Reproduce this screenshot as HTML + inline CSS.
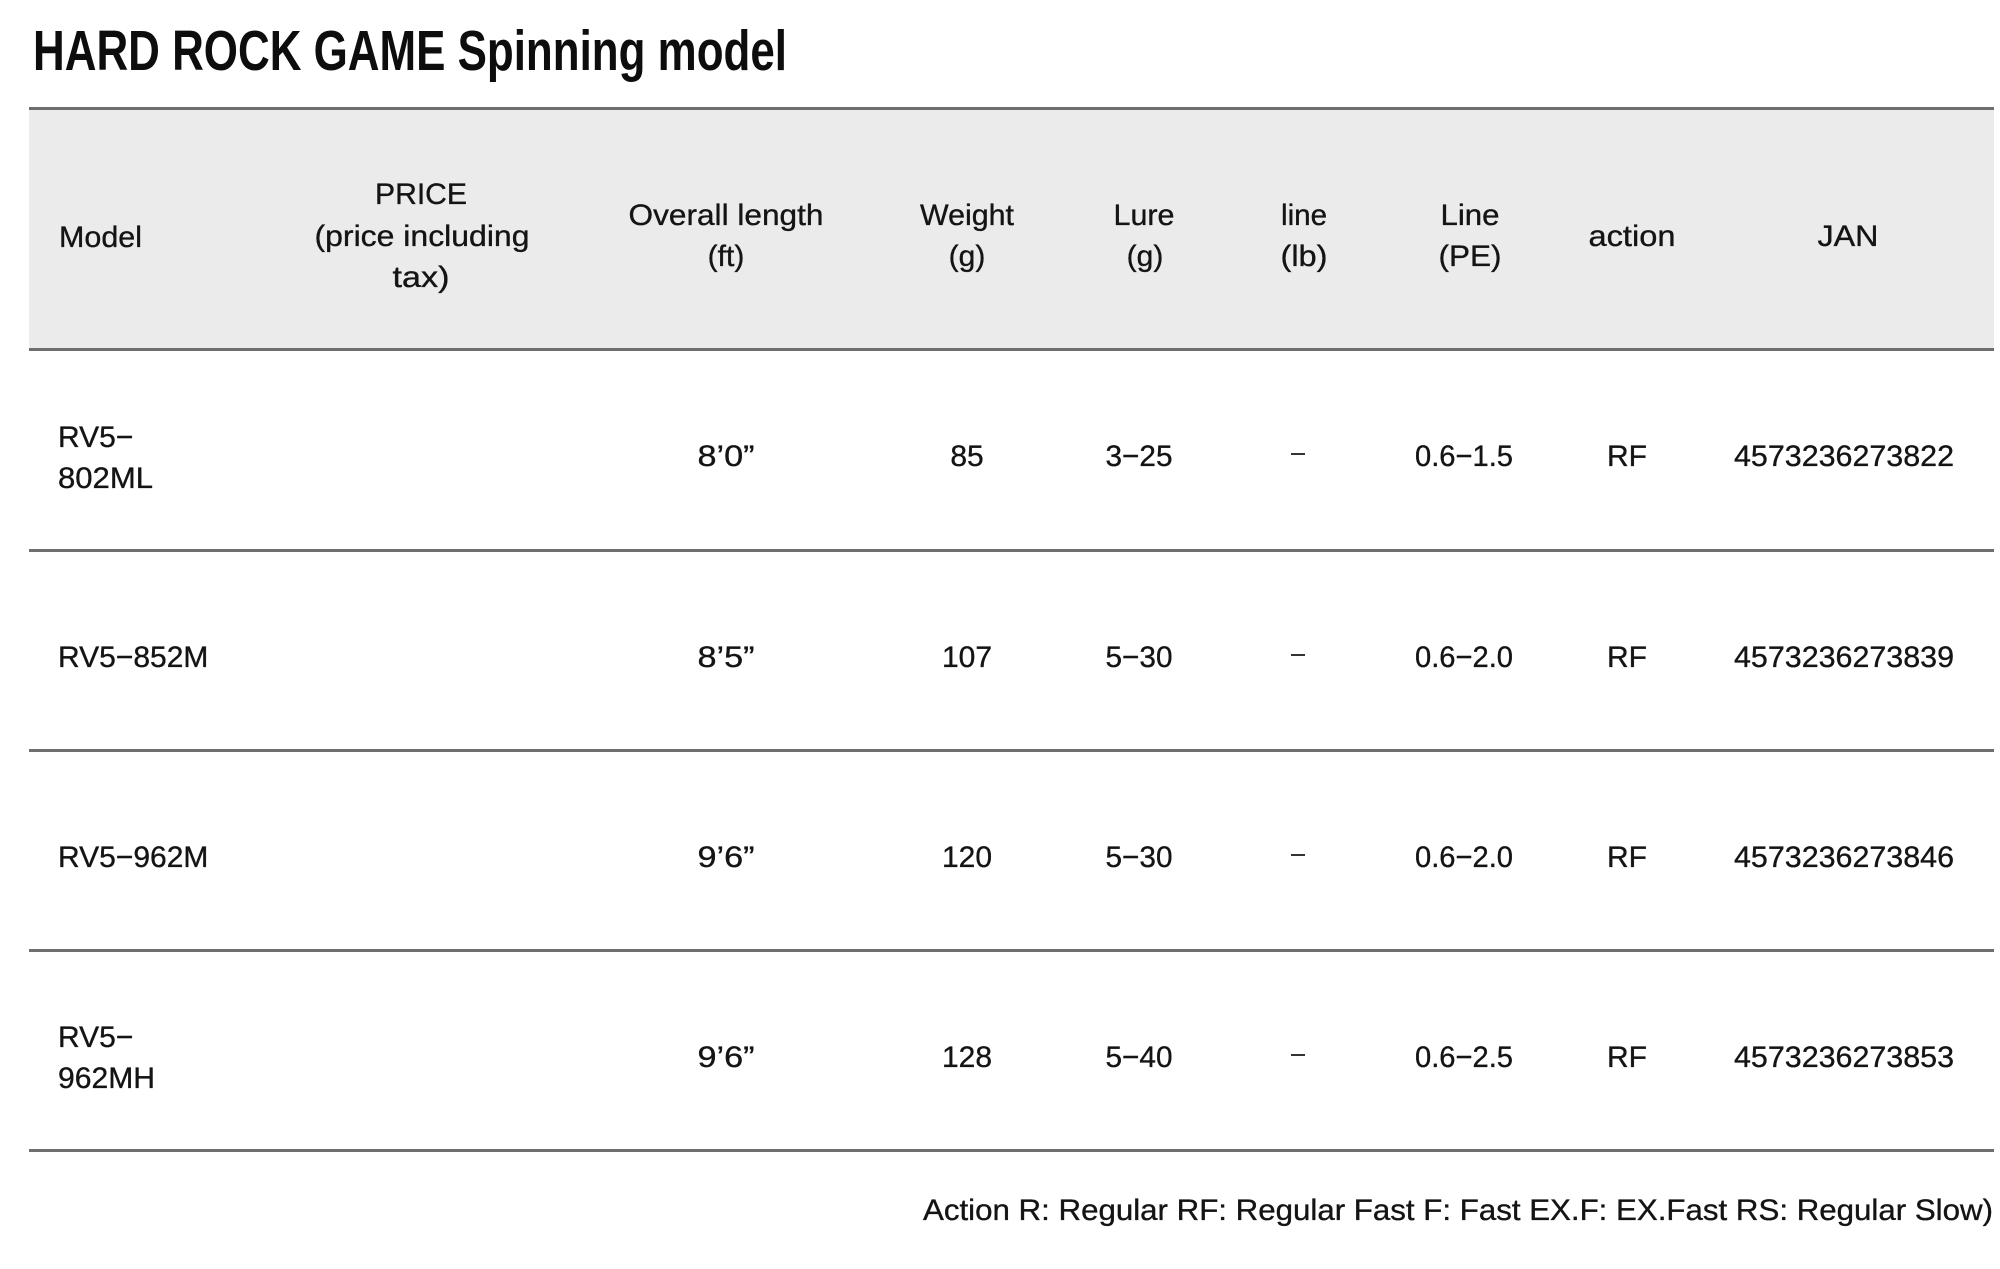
<!DOCTYPE html>
<html>
<head>
<meta charset="utf-8">
<style>
  html, body { margin: 0; padding: 0; background: #ffffff; }
  svg { display: block; }
  text { font-family: "Liberation Sans", "Noto Sans CJK JP", sans-serif; }
</style>
</head>
<body>
<svg width="2000" height="1269" viewBox="0 0 2000 1269" xmlns="http://www.w3.org/2000/svg">
  <rect x="0" y="0" width="2000" height="1269" fill="#ffffff"/>

  <!-- Title -->
  <text x="33" y="70" font-size="57" font-weight="bold" fill="#0d0d0d" textLength="754" lengthAdjust="spacingAndGlyphs">HARD ROCK GAME Spinning model</text>

  <!-- Header background -->
  <rect x="29" y="109" width="1965" height="240" fill="#ebebeb"/>

  <!-- Horizontal rules -->
  <rect x="29" y="107" width="1965" height="3" fill="#6e6e6e"/>
  <rect x="29" y="348" width="1965" height="3" fill="#6e6e6e"/>
  <rect x="29" y="549" width="1965" height="3" fill="#6e6e6e"/>
  <rect x="29" y="749" width="1965" height="3" fill="#6e6e6e"/>
  <rect x="29" y="949" width="1965" height="3" fill="#6e6e6e"/>
  <rect x="29" y="1149" width="1965" height="3" fill="#6e6e6e"/>

  <!-- Header texts -->
  <g font-size="30" fill="#141414" stroke="#141414" stroke-width="0.35">
    <text x="59" y="247" textLength="83" lengthAdjust="spacingAndGlyphs">Model</text>

    <text x="421" y="204" text-anchor="middle" textLength="92" lengthAdjust="spacingAndGlyphs">PRICE</text>
    <text x="422" y="246" text-anchor="middle" textLength="215" lengthAdjust="spacingAndGlyphs">(price including</text>
    <text x="421" y="287" text-anchor="middle" textLength="57" lengthAdjust="spacingAndGlyphs">tax)</text>

    <text x="726" y="225" text-anchor="middle" textLength="195" lengthAdjust="spacingAndGlyphs">Overall length</text>
    <text x="726" y="266" text-anchor="middle">(ft)</text>

    <text x="967" y="225" text-anchor="middle" textLength="94" lengthAdjust="spacingAndGlyphs">Weight</text>
    <text x="967" y="266" text-anchor="middle">(g)</text>

    <text x="1144" y="225" text-anchor="middle" textLength="61" lengthAdjust="spacingAndGlyphs">Lure</text>
    <text x="1145" y="266" text-anchor="middle">(g)</text>

    <text x="1304" y="225" text-anchor="middle" textLength="46" lengthAdjust="spacingAndGlyphs">line</text>
    <text x="1304" y="266" text-anchor="middle" textLength="47" lengthAdjust="spacingAndGlyphs">(lb)</text>

    <text x="1470" y="225" text-anchor="middle" textLength="59" lengthAdjust="spacingAndGlyphs">Line</text>
    <text x="1470" y="266" text-anchor="middle" textLength="63" lengthAdjust="spacingAndGlyphs">(PE)</text>

    <text x="1632" y="246" text-anchor="middle" textLength="87" lengthAdjust="spacingAndGlyphs">action</text>

    <text x="1848" y="246" text-anchor="middle" textLength="61" lengthAdjust="spacingAndGlyphs">JAN</text>
  </g>

  <!-- Row 1 -->
  <g font-size="30" fill="#141414" stroke="#141414" stroke-width="0.35">
    <text x="58" y="447">RV5−</text>
    <text x="58" y="488" textLength="95" lengthAdjust="spacingAndGlyphs">802ML</text>
    <text x="726" y="466" text-anchor="middle" textLength="57" lengthAdjust="spacingAndGlyphs">8’0”</text>
    <text x="967" y="466" text-anchor="middle">85</text>
    <text x="1139" y="466" text-anchor="middle" textLength="67" lengthAdjust="spacingAndGlyphs">3−25</text>
    <text x="1464" y="466" text-anchor="middle" textLength="98" lengthAdjust="spacingAndGlyphs">0.6−1.5</text>
    <text x="1627" y="466" text-anchor="middle">RF</text>
    <text x="1844" y="466" text-anchor="middle" textLength="220" lengthAdjust="spacingAndGlyphs">4573236273822</text>
  </g>
  <rect x="1291" y="453" width="14" height="2" fill="#333333"/>

  <!-- Row 2 -->
  <g font-size="30" fill="#141414" stroke="#141414" stroke-width="0.35">
    <text x="58" y="667">RV5−852M</text>
    <text x="726" y="667" text-anchor="middle" textLength="57" lengthAdjust="spacingAndGlyphs">8’5”</text>
    <text x="967" y="667" text-anchor="middle">107</text>
    <text x="1139" y="667" text-anchor="middle" textLength="67" lengthAdjust="spacingAndGlyphs">5−30</text>
    <text x="1464" y="667" text-anchor="middle" textLength="98" lengthAdjust="spacingAndGlyphs">0.6−2.0</text>
    <text x="1627" y="667" text-anchor="middle">RF</text>
    <text x="1844" y="667" text-anchor="middle" textLength="220" lengthAdjust="spacingAndGlyphs">4573236273839</text>
  </g>
  <rect x="1291" y="654" width="14" height="2" fill="#333333"/>

  <!-- Row 3 -->
  <g font-size="30" fill="#141414" stroke="#141414" stroke-width="0.35">
    <text x="58" y="867">RV5−962M</text>
    <text x="726" y="867" text-anchor="middle" textLength="57" lengthAdjust="spacingAndGlyphs">9’6”</text>
    <text x="967" y="867" text-anchor="middle">120</text>
    <text x="1139" y="867" text-anchor="middle" textLength="67" lengthAdjust="spacingAndGlyphs">5−30</text>
    <text x="1464" y="867" text-anchor="middle" textLength="98" lengthAdjust="spacingAndGlyphs">0.6−2.0</text>
    <text x="1627" y="867" text-anchor="middle">RF</text>
    <text x="1844" y="867" text-anchor="middle" textLength="220" lengthAdjust="spacingAndGlyphs">4573236273846</text>
  </g>
  <rect x="1291" y="854" width="14" height="2" fill="#333333"/>

  <!-- Row 4 -->
  <g font-size="30" fill="#141414" stroke="#141414" stroke-width="0.35">
    <text x="58" y="1047">RV5−</text>
    <text x="58" y="1088" textLength="97" lengthAdjust="spacingAndGlyphs">962MH</text>
    <text x="726" y="1067" text-anchor="middle" textLength="57" lengthAdjust="spacingAndGlyphs">9’6”</text>
    <text x="967" y="1067" text-anchor="middle">128</text>
    <text x="1139" y="1067" text-anchor="middle" textLength="67" lengthAdjust="spacingAndGlyphs">5−40</text>
    <text x="1464" y="1067" text-anchor="middle" textLength="98" lengthAdjust="spacingAndGlyphs">0.6−2.5</text>
    <text x="1627" y="1067" text-anchor="middle">RF</text>
    <text x="1844" y="1067" text-anchor="middle" textLength="220" lengthAdjust="spacingAndGlyphs">4573236273853</text>
  </g>
  <rect x="1291" y="1054" width="14" height="2" fill="#333333"/>

  <!-- Footer note -->
  <text x="923" y="1220" font-size="30" fill="#141414" stroke="#141414" stroke-width="0.35" textLength="1070" lengthAdjust="spacingAndGlyphs">Action R: Regular RF: Regular Fast F: Fast EX.F: EX.Fast RS: Regular Slow)</text>
</svg>
</body>
</html>
